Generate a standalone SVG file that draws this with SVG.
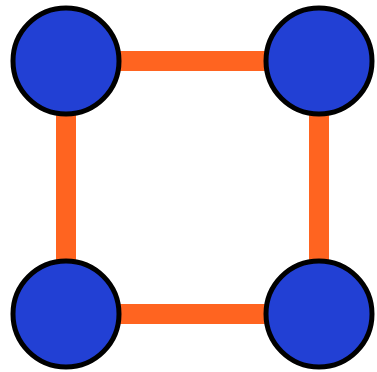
<svg xmlns="http://www.w3.org/2000/svg" width="377" height="372" viewBox="0 0 377 372">
<style>
.edge{stroke:#FF6420;stroke-width:20;fill:none}
.node{fill:#2240D4;stroke:#000;stroke-width:5}
</style>
<rect width="377" height="372" fill="#fff"/>
<g id="edges">
<line class="edge" x1="66" y1="61" x2="319" y2="61"/>
<line class="edge" x1="319" y1="61" x2="319" y2="314"/>
<line class="edge" x1="319" y1="314" x2="66" y2="314"/>
<line class="edge" x1="66" y1="314" x2="66" y2="61"/>
</g>
<g id="n1"><circle class="node" cx="66" cy="61" r="53"/></g>
<g id="n2"><circle class="node" cx="319" cy="61" r="53"/></g>
<g id="n3"><circle class="node" cx="66" cy="314" r="53"/></g>
<g id="n4"><circle class="node" cx="319" cy="314" r="53"/></g>
</svg>
